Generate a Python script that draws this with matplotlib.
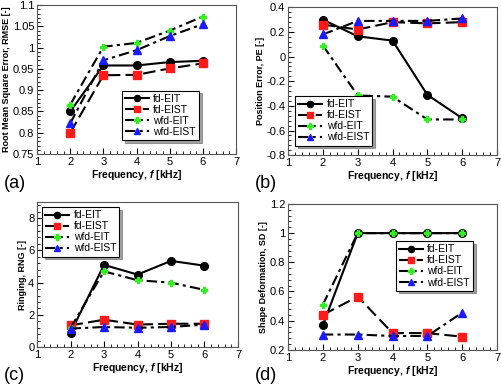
import numpy as np
import matplotlib.pyplot as plt
from matplotlib.ticker import MultipleLocator, AutoMinorLocator

plt.rcParams['font.family'] = ['Liberation Sans', 'DejaVu Sans']
plt.rcParams['mathtext.fontset'] = 'custom'
plt.rcParams['mathtext.bfit'] = 'Liberation Sans:bold:italic'

freq = [2, 3, 4, 5, 6]
labels = ['fd-EIT', 'fd-EIST', 'wfd-EIT', 'wfd-EIST']

# (a) root mean square error
rmse_fd_eit = [0.850, 0.958, 0.958, 0.966, 0.969]
rmse_fd_eist = [0.800, 0.935, 0.936, 0.951, 0.963]
rmse_wfd_eit = [0.866, 1.002, 1.011, 1.040, 1.073]
rmse_wfd_eist = [0.822, 0.970, 0.994, 1.027, 1.055]

# (b) position error
pe_fd_eit = [0.30, 0.165, 0.13, -0.31, -0.50]
pe_fd_eist = [0.26, 0.22, 0.28, 0.27, 0.28]
pe_wfd_eit = [0.09, -0.315, -0.325, -0.51, -0.51]
pe_wfd_eist = [0.18, 0.29, 0.29, 0.29, 0.31]

# (c) ringing
rng_fd_eit = [0.9, 5.1, 4.5, 5.35, 5.05]
rng_fd_eist = [1.35, 1.7, 1.4, 1.45, 1.45]
rng_wfd_eit = [1.2, 4.7, 4.15, 4.0, 3.55]
rng_wfd_eist = [1.15, 1.25, 1.2, 1.25, 1.4]

# (d) shape deformation
sd_fd_eit = [0.37, 1.0, 1.0, 1.0, 1.0]
sd_fd_eist = [0.44, 0.565, 0.315, 0.315, 0.29]
sd_wfd_eit = [0.51, 1.0, 1.0, 1.0, 1.0]
sd_wfd_eist = [0.305, 0.305, 0.295, 0.295, 0.455]

styles = [
    dict(color='black', linestyle='-', marker='o', markerfacecolor='black', markeredgecolor='black', markersize=5.5),
    dict(color='black', linestyle=(0, (6, 2.5)), marker='s', markerfacecolor='#ff1a1a', markeredgecolor='#ff1a1a', markersize=6),
    dict(color='black', linestyle=(0, (5, 2, 1.5, 2)), marker='P', markerfacecolor='#33ee22', markeredgecolor='#33ee22', markersize=5),
    dict(color='black', linestyle=(0, (5, 2, 1.5, 2)), marker='^', markerfacecolor='#1a1aff', markeredgecolor='#1a1aff', markersize=6),
]

panels = [
    dict(pos=[0.074, 0.602, 0.397, 0.385], data=[rmse_fd_eit, rmse_fd_eist, rmse_wfd_eit, rmse_wfd_eist],
         ylim=(0.75, 1.1), major=0.05, ylabel='Root Mean Square Error, RMSE [-]',
         leg=dict(loc='lower right', bbox_to_anchor=(0.84, 0.06)), tag='(a)', tagpos=(0.008, 0.515)),
    dict(pos=[0.575, 0.599, 0.417, 0.382], data=[pe_fd_eit, pe_fd_eist, pe_wfd_eit, pe_wfd_eist],
         ylim=(-0.8, 0.4), major=0.2, ylabel='Position Error, PE [-]',
         leg=dict(loc='lower left', bbox_to_anchor=(0.01, 0.03)), tag='(b)', tagpos=(0.508, 0.515)),
    dict(pos=[0.074, 0.103, 0.401, 0.375], data=[rng_fd_eit, rng_fd_eist, rng_wfd_eit, rng_wfd_eist],
         ylim=(0, 9), major=2, ylabel='Ringing, RNG [-]',
         leg=dict(loc='upper left', bbox_to_anchor=(0.0, 1.0)), tag='(c)', tagpos=(0.008, 0.018)),
    dict(pos=[0.575, 0.096, 0.417, 0.377], data=[sd_fd_eit, sd_fd_eist, sd_wfd_eit, sd_wfd_eist],
         ylim=(0.2, 1.2), major=0.2, ylabel='Shape Deformation, SD [-]',
         leg=dict(loc='upper right', bbox_to_anchor=(0.91, 0.78)), tag='(d)', tagpos=(0.508, 0.018)),
]

fig = plt.figure(figsize=(5.01, 3.87), dpi=100)

for p in panels:
    ax = fig.add_axes(p['pos'])
    for series, lab, st in zip(p['data'], labels, styles):
        ax.plot(freq, series, label=lab, linewidth=1.5, **st)
    ax.set_xlim(1, 7)
    ax.set_ylim(*p['ylim'])
    ax.xaxis.set_major_locator(MultipleLocator(1))
    ax.xaxis.set_minor_locator(AutoMinorLocator(5))
    ax.yaxis.set_major_locator(MultipleLocator(p['major']))
    ax.yaxis.set_minor_locator(AutoMinorLocator(5))
    ax.tick_params(which='both', direction='in', labelsize=8, pad=2)
    ax.tick_params(which='major', length=4)
    ax.tick_params(which='minor', length=2)
    for s in ax.spines.values():
        s.set_color('#555555')
    ax.yaxis.set_major_formatter(plt.FuncFormatter(lambda v, _: ('%g' % round(v, 3))))
    ax.set_xlabel('Frequency, $\\mathbfit{f}$ [kHz]', fontsize=7.5, fontweight='bold', labelpad=1)
    ax.set_ylabel(p['ylabel'], fontsize=6.5, fontweight='bold', labelpad=1)
    leg = ax.legend(fontsize=7.5, frameon=True, fancybox=False, shadow=True, handlelength=2.3,
                    borderpad=0.3, labelspacing=0.1, handletextpad=0.4, markerscale=0.8, **p['leg'])
    leg.get_frame().set_edgecolor('black')
    leg.get_frame().set_linewidth(0.8)
    fig.text(p['tagpos'][0], p['tagpos'][1], p['tag'], fontsize=13)

plt.savefig('out.png', dpi=100)
